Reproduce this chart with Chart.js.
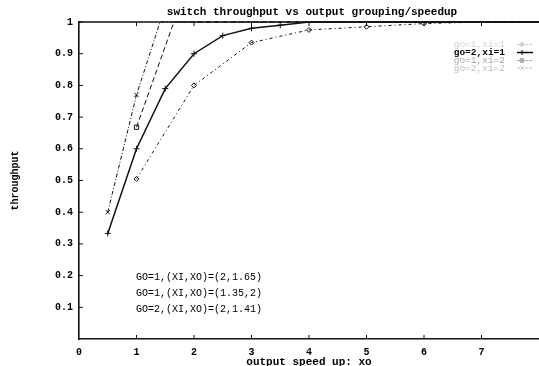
<!DOCTYPE html>
<html><head><meta charset="utf-8">
<script src="https://cdn.jsdelivr.net/npm/chart.js@4/dist/chart.umd.min.js"></script>
<style>html,body{margin:0;padding:0;background:#fff;}#wrap{width:539px;height:366px;position:relative;}</style>
</head><body><div id="wrap"><canvas id="c"></canvas></div>
<script>
const titleText = 'switch throughput vs output grouping/speedup';
const xTitle = 'output speed up: xo';
const yTitle = 'throughput';
const seriesLabels = ['go=1,xi=1', 'go=2,xi=1', 'go=1,xi=2', 'go=2,xi=2'];
const legendColors = ['#d0d0d0', '#000000', '#a8a8a8', '#c0c0c0'];

// go=1,xi=1 (lowest, dotted, diamond markers)
const dX = [1, 2, 3, 4, 5, 6, 7, 8];
const dY = [0.505, 0.80, 0.935, 0.975, 0.985, 0.995, 1, 1];
// go=2,xi=1 (solid, + markers)
const cX = [0.5, 1, 1.5, 2, 2.5, 3, 3.5, 4, 5, 6, 7, 8];
const cY = [0.333, 0.60, 0.79, 0.90, 0.957, 0.98, 0.99, 1, 1, 1, 1, 1];
// go=1,xi=2 (dashed, box markers)
const bX = [1, 1.65, 2, 3, 4, 5, 6, 7, 8];
const bY = [0.668, 1, 1, 1, 1, 1, 1, 1, 1];
// go=2,xi=2 (dash-dot, x markers)
const aX = [0.5, 1, 1.41, 2, 3, 4, 5, 6, 7, 8];
const aY = [0.40, 0.77, 1, 1, 1, 1, 1, 1, 1, 1];

const xTicks = [0, 1, 2, 3, 4, 5, 6, 7, 8];
const yTicks = [0, 0.1, 0.2, 0.3, 0.4, 0.5, 0.6, 0.7, 0.8, 0.9, 1];

const noteTexts = ['GO=1,(XI,XO)=(2,1.65)', 'GO=1,(XI,XO)=(1.35,2)', 'GO=2,(XI,XO)=(2,1.41)'];
const noteX = [0.99, 0.99, 0.99];
const noteY = [0.195, 0.145, 0.095];

const pts = (xs, ys) => xs.map((x, i) => ({x: x, y: ys[i]}));
const INK = '#111';
const MONO = '"Liberation Mono", "DejaVu Sans Mono", monospace';
const rad = r => ctx => (ctx.raw && ctx.raw.y < 0.999) ? r : 0;

const styles = [
  {dash: [3, 3, 1, 3], width: 1, pt: 'rectRot', r: 2.5},
  {dash: [], width: 1.5, pt: 'cross', r: 3},
  {dash: [5, 3], width: 1, pt: 'rect', r: 3},
  {dash: [4, 2, 1, 2], width: 1, pt: 'crossRot', r: 3}
];
const seriesData = [pts(dX, dY), pts(cX, cY), pts(bX, bY), pts(aX, aY)];

const datasets = seriesData.map((d, i) => ({
  label: seriesLabels[i],
  data: d,
  showLine: true,
  borderColor: INK,
  backgroundColor: 'rgba(0,0,0,0)',
  borderWidth: styles[i].width,
  borderDash: styles[i].dash,
  pointStyle: styles[i].pt,
  pointRadius: rad(styles[i].r),
  pointBorderColor: INK,
  pointBorderWidth: 1,
  pointBackgroundColor: 'rgba(0,0,0,0)',
  clip: false,
  tension: 0
}));

const decor = {
  id: 'decor',
  afterDraw(chart) {
    const ctx = chart.ctx, a = chart.chartArea;
    const xs = chart.scales.x, ys = chart.scales.y;
    ctx.save();
    ctx.strokeStyle = INK;
    ctx.lineWidth = 1.6;
    ctx.beginPath(); ctx.moveTo(a.left, a.top); ctx.lineTo(a.right, a.top); ctx.stroke();
    ctx.lineWidth = 1;
    xTicks.forEach(v => {
      if (v === 0 || v === 8) return;
      const px = xs.getPixelForValue(v);
      ctx.beginPath(); ctx.moveTo(px, a.bottom); ctx.lineTo(px, a.bottom - 4); ctx.stroke();
      ctx.beginPath(); ctx.moveTo(px, a.top); ctx.lineTo(px, a.top + 4); ctx.stroke();
    });
    yTicks.forEach(v => {
      if (v === 0) return;
      const py = ys.getPixelForValue(v);
      ctx.beginPath(); ctx.moveTo(a.left, py); ctx.lineTo(a.left + 4, py); ctx.stroke();
    });
    ctx.fillStyle = '#000';
    ctx.font = 'bold 11px ' + MONO;
    ctx.textAlign = 'center'; ctx.textBaseline = 'middle';
    ctx.fillText(titleText, 312, 12);
    ctx.font = '10px ' + MONO;
    ctx.textAlign = 'left';
    noteTexts.forEach((t, i) => {
      ctx.fillText(t, xs.getPixelForValue(noteX[i]), ys.getPixelForValue(noteY[i]));
    });
    ctx.textAlign = 'right';
    const rowY = [44.5, 52.5, 60.5, 68];
    seriesLabels.forEach((t, i) => {
      ctx.font = (i === 1 ? 'bold ' : '') + '9.5px ' + MONO;
      ctx.fillStyle = legendColors[i];
      ctx.strokeStyle = legendColors[i];
      ctx.fillText(t, 505, rowY[i]);
      ctx.lineWidth = styles[i].width;
      ctx.setLineDash(styles[i].dash.length ? [3, 1] : []);
      ctx.beginPath(); ctx.moveTo(517, rowY[i]); ctx.lineTo(533, rowY[i]); ctx.stroke();
      ctx.setLineDash([]);
      ctx.lineWidth = 1;
      Chart.helpers.drawPoint(ctx, {pointStyle: styles[i].pt, radius: 2.5, borderWidth: 1}, 522, rowY[i]);
    });
    ctx.restore();
  }
};

new Chart(document.getElementById('c'), {
  type: 'scatter',
  data: {datasets: datasets},
  options: {
    responsive: true,
    maintainAspectRatio: false,
    animation: false,
    events: [],
    layout: {autoPadding: false, padding: {top: 22, right: 0, bottom: 0, left: 0}},
    plugins: {legend: {display: false}, title: {display: false}, tooltip: {enabled: false}},
    scales: {
      x: {
        type: 'linear', min: 0, max: 8,
        afterBuildTicks: s => { s.ticks = xTicks.map(v => ({value: v})); },
        afterFit: s => { s.height = 27; s.paddingRight = 0; s.paddingLeft = 0; },
        grid: {display: false, drawTicks: false},
        border: {display: true, color: INK, width: 1.6},
        ticks: {color: '#000', padding: 7, maxRotation: 0, autoSkip: false,
          font: {family: MONO, size: 10, weight: 'bold'},
          callback: v => (v === 8 ? '' : String(v))},
        title: {display: true, text: xTitle, color: '#000', padding: {top: 0, bottom: -3},
          font: {family: MONO, size: 11, weight: 'bold'}}
      },
      y: {
        type: 'linear', min: 0, max: 1,
        afterBuildTicks: s => { s.ticks = yTicks.map(v => ({value: v})); },
        afterFit: s => { s.width = 79; s.paddingTop = 0; s.paddingBottom = 0; },
        grid: {display: false, drawTicks: false},
        border: {display: true, color: INK, width: 1.6},
        ticks: {color: '#000', padding: 6, autoSkip: false,
          font: {family: MONO, size: 10, weight: 'bold'},
          callback: v => (v === 0 ? '' : (v === 1 ? '1' : v.toFixed(1)))},
        title: {display: true, text: yTitle, color: '#000', padding: {top: 9, bottom: 0},
          font: {family: MONO, size: 10, weight: 'bold'}}
      }
    }
  },
  plugins: [decor]
});
</script></body></html>
